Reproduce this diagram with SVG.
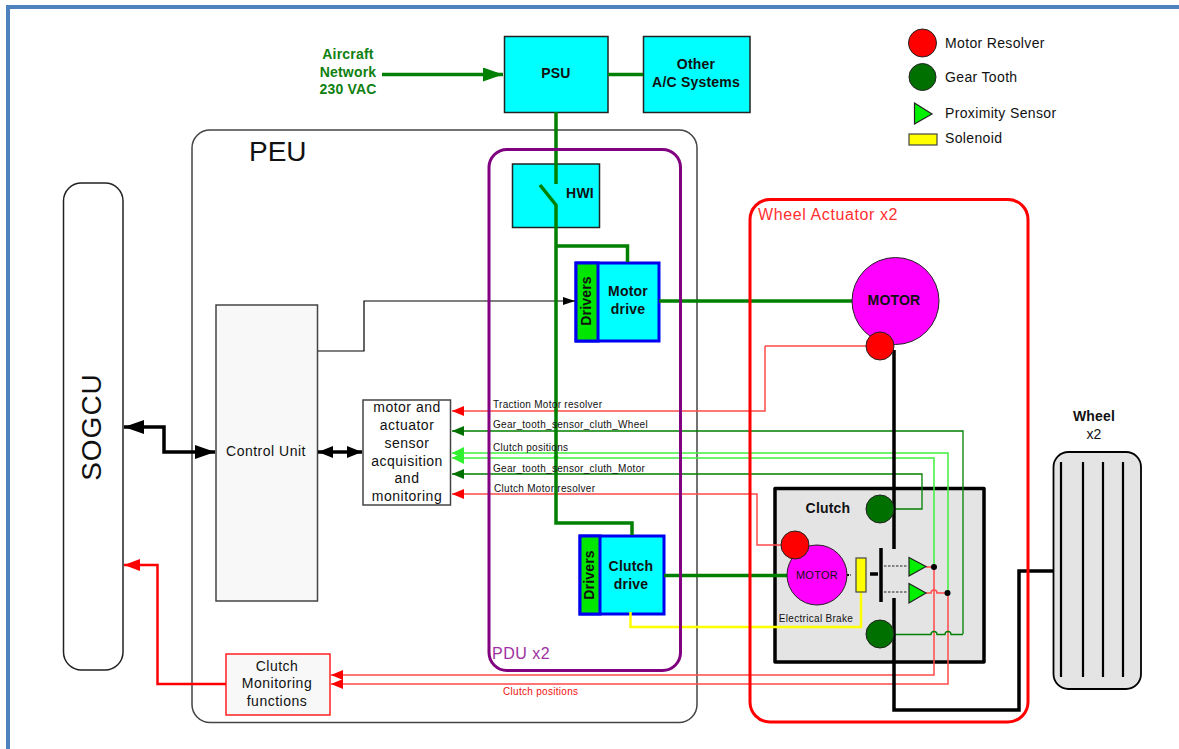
<svg xmlns="http://www.w3.org/2000/svg" width="1179" height="749" viewBox="0 0 1179 749">
<style>
text{font-family:"Liberation Sans",Arial,sans-serif;fill:#111}
.b{font-weight:bold;font-size:14px;text-anchor:middle;letter-spacing:.2px}
.r{font-size:14px;text-anchor:middle;letter-spacing:.5px}
.s{font-size:10px;letter-spacing:.3px}
.leg{font-size:14px;letter-spacing:.35px}
.cy{fill:#00ffff;stroke:#222;stroke-width:1.5}
.drv{fill:#00ffff;stroke:#0000f0;stroke-width:3}
.dg{fill:#00e600;stroke:#0000f0;stroke-width:3}
.rs{fill:#ff0000;stroke:#222;stroke-width:1}
.gt{fill:#007000;stroke:#222;stroke-width:1}
.px{fill:#00f000;stroke:#222;stroke-width:1.2}
.sol{fill:#ffff00;stroke:#444;stroke-width:1.2}
.mg{fill:#ff00ff;stroke:#222;stroke-width:1}
.grey{fill:#f8f8f8;stroke:#444;stroke-width:1.5}
.hp{fill:#fff;stroke:#444;stroke-width:1.5}
.gray2{fill:#e4e4e4;stroke:#000;stroke-width:3.5;stroke-linejoin:round}
#connectors path{fill:none}
.g3{stroke:#008000;stroke-width:3.5}
.k3{stroke:#000;stroke-width:3.5}
.gl{stroke:#008000;stroke-width:1.3}
.lg{stroke:#40f040;stroke-width:1.5}
.lr{stroke:#ff4a4a;stroke-width:1.5}
.yl{stroke:#ffff00;stroke-width:2.5}
</style>
<defs>
<marker id="mr" markerUnits="userSpaceOnUse" markerWidth="12" markerHeight="10" refX="12" refY="5" orient="auto"><path d="M12 5L0 0V10Z" fill="#ff0000"/></marker>
<marker id="mdg" markerUnits="userSpaceOnUse" markerWidth="12" markerHeight="10" refX="12" refY="5" orient="auto"><path d="M12 5L0 0V10Z" fill="#007000"/></marker>
<marker id="mlg" markerUnits="userSpaceOnUse" markerWidth="12" markerHeight="12" refX="12" refY="6" orient="auto"><path d="M12 6L0 0V12Z" fill="#30f030"/></marker>
<marker id="mk" markerUnits="userSpaceOnUse" markerWidth="20" markerHeight="14" refX="20" refY="7" orient="auto-start-reverse"><path d="M20 7L0 0V14Z" fill="#000"/></marker>
<marker id="mk2" markerUnits="userSpaceOnUse" markerWidth="15" markerHeight="12" refX="15" refY="6" orient="auto-start-reverse"><path d="M15 6L0 0V12Z" fill="#000"/></marker>
<marker id="mk3" markerUnits="userSpaceOnUse" markerWidth="12" markerHeight="8" refX="12" refY="4" orient="auto"><path d="M12 4L0 0V8Z" fill="#000"/></marker>
<marker id="mgr" markerUnits="userSpaceOnUse" markerWidth="20" markerHeight="14" refX="20" refY="7" orient="auto"><path d="M20 7L0 0V14Z" fill="#008000"/></marker>
<marker id="mrb" markerUnits="userSpaceOnUse" markerWidth="16" markerHeight="12" refX="16" refY="6" orient="auto"><path d="M16 6L0 0V12Z" fill="#ff0000"/></marker>
</defs>
<path d="M8 749V7H1179" fill="none" stroke="#4f81bd" stroke-width="4"/>

<g id="sogcu"><rect x="63.500" y="183" width="59.500" height="487" rx="18" fill="#fff" stroke="#222" stroke-width="1.500"/>
<text transform="translate(101 427) rotate(-90)" font-size="28" text-anchor="middle" letter-spacing="1">SOGCU</text></g>
<g id="peu"><rect x="192" y="130" width="505" height="592.500" rx="18" fill="#fff" stroke="#444" stroke-width="1.500"/>
<text x="249" y="161" font-size="28">PEU</text></g>
<g id="control-unit"><rect class="grey" x="216" y="305" width="101.500" height="296"/><text class="r" x="266" y="456">Control Unit</text></g>
<g id="acquisition"><rect class="hp" x="363" y="400" width="87.500" height="105"/>
<text class="r" x="407" y="412">motor and</text><text class="r" x="407" y="430">actuator</text><text class="r" x="407" y="448">sensor</text><text class="r" x="407" y="466">acquisition</text><text class="r" x="407" y="483">and</text><text class="r" x="407" y="501">monitoring</text></g>
<g id="clutch-monitoring"><rect x="226" y="654" width="104" height="61" fill="#f8f8f8" stroke="#ff2020" stroke-width="1.500"/>
<text class="r" x="277" y="671">Clutch</text><text class="r" x="277" y="688">Monitoring</text><text class="r" x="277" y="706">functions</text></g>
<g id="psu"><rect class="cy" x="504.500" y="36.500" width="103.500" height="76"/><text class="b" x="556" y="78">PSU</text></g>
<g id="other"><rect class="cy" x="643.500" y="36.500" width="106.500" height="76"/><text class="b" x="696" y="69">Other</text><text class="b" x="696" y="87">A/C Systems</text></g>
<g id="network"><text class="b" x="348" y="59" style="fill:#108010">Aircraft</text><text class="b" x="348" y="77" style="fill:#108010">Network</text><text class="b" x="348" y="94" style="fill:#108010">230 VAC</text></g>
<g id="hwi"><rect class="cy" x="512.500" y="164" width="87" height="63.500"/><text class="b" x="580" y="198">HWI</text></g>
<g id="motor-drive"><rect class="drv" x="576" y="263" width="83" height="78"/><rect class="dg" x="576" y="263" width="22" height="78"/>
<text class="b" transform="translate(591 301) rotate(-90)">Drivers</text><text class="b" x="628" y="296">Motor</text><text class="b" x="628" y="314">drive</text></g>
<g id="clutch-drive"><rect class="drv" x="580" y="536" width="84" height="78"/><rect class="dg" x="580" y="536" width="20" height="78"/>
<text class="b" transform="translate(594 575) rotate(-90)">Drivers</text><text class="b" x="631" y="571">Clutch</text><text class="b" x="631" y="589">drive</text></g>
<g id="clutch"><rect class="gray2" x="775" y="488.500" width="209" height="173.500"/><text class="b" x="828" y="513">Clutch</text>
<text x="816" y="622" font-size="10" text-anchor="middle" letter-spacing=".3">Electrical Brake</text></g>
<g id="wheel"><rect x="1053.500" y="452" width="87.500" height="237" rx="15" fill="#e4e4e4" stroke="#000" stroke-width="1.800"/>
<path d="M1061 462V677M1083 462V677M1103 462V677M1123 462V677" stroke="#000" stroke-width="2.200" fill="none"/>
<text class="b" x="1094" y="421">Wheel</text><text x="1094" y="439" font-size="14" text-anchor="middle">x2</text></g>

<g id="connectors">
<path class="lr" d="M765 346H880M765 346V411H557.500A1.500 1.500 0 0 0 554.500 411H452" marker-end="url(#mr)"/>
<path class="gl" d="M963 634V431H452" marker-end="url(#mdg)"/>
<path class="lg" d="M948 593V453H452" marker-end="url(#mlg)"/>
<path class="lg" d="M934 567V458H558A2 2 0 0 0 554 458H452" marker-end="url(#mlg)"/>
<path class="gl" d="M894 509H922V474H452" marker-end="url(#mdg)"/>
<path class="lr" d="M781 545H757V494H452" marker-end="url(#mr)"/>
<path class="lr" d="M926 567H934V675H331" marker-end="url(#mr)"/>
<path class="lr" d="M926 593H931A3 3 0 0 1 937 593H948V684H331" marker-end="url(#mr)"/>
<path class="gl" d="M894 634.500H931A3 3 0 0 1 937 634.500H945A3 3 0 0 1 951 634.500H963"/>
<path class="yl" d="M861 592V627H630.500V612"/>
<path d="M318 351H364V301H575" stroke="#000" stroke-width="1.200" marker-end="url(#mk3)"/>
<path class="g3" d="M382 74.500H503" marker-end="url(#mgr)"/>
<path class="g3" d="M608 74.500H643"/>
<path class="g3" d="M556 112V184M540 185L556 205V523H632V535M556 246H627.500V262"/>
<path class="g3" d="M659 301H852"/>
<path class="g3" d="M664 575.500H787"/>
<path class="k3" d="M894 350V549M894 598V710H1019V571H1054"/>
<path class="k3" d="M881 548V602"/>
<path class="k3" d="M870 574H878"/>
<path d="M847 575H851" stroke="#000" stroke-width="2" stroke-dasharray="2 1.500"/>
<path d="M884 566H908M884 592H908" stroke="#222" stroke-width="1.100" stroke-dasharray="2.500 1.500"/>
<path class="k3" d="M215 452H164V427H124" marker-end="url(#mk)" marker-start="url(#mk)"/>
<path class="k3" d="M318 452H362" marker-start="url(#mk2)" marker-end="url(#mk2)"/>
<path d="M226 684H157.500V565H124" stroke="#ff0000" stroke-width="2.500" marker-end="url(#mrb)"/>
<circle cx="934" cy="567" r="3" fill="#000"/><circle cx="947.500" cy="593" r="3" fill="#000"/>
</g>

<g id="pdu"><rect x="489" y="149.500" width="191.500" height="521" rx="18" fill="none" stroke="#800080" stroke-width="3"/><text x="492" y="659" font-size="16" style="fill:#a030a0" letter-spacing=".5">PDU x2</text></g>
<g id="wheel-actuator"><rect x="750" y="199.500" width="278" height="522.500" rx="20" fill="none" stroke="#ff0000" stroke-width="3"/><text x="758" y="220" font-size="16" style="fill:#ff3030" letter-spacing=".6">Wheel Actuator x2</text></g>
<g id="traction-motor"><circle class="mg" cx="895.500" cy="301" r="43.500"/><text class="b" x="894" y="305">MOTOR</text></g>
<g id="traction-resolver"><circle class="rs" cx="880" cy="346" r="14"/></g>
<g id="brake-motor"><circle class="mg" cx="817" cy="575" r="30"/><text x="817" y="579" font-size="11" text-anchor="middle" letter-spacing=".3">MOTOR</text></g>
<g id="clutch-resolver"><circle class="rs" cx="795" cy="545" r="14"/></g>
<g id="gear-top"><circle class="gt" cx="880" cy="509" r="14"/></g>
<g id="gear-bottom"><circle class="gt" cx="880" cy="634" r="14"/></g>
<g id="solenoid"><rect class="sol" x="856" y="558" width="10" height="34"/></g>
<g id="sensor-a"><path class="px" d="M909 557.500L926 566.500L909 576Z"/></g>
<g id="sensor-b"><path class="px" d="M909 583.500L926 593L909 603Z"/></g>

<g id="labels">
<text class="s" x="493" y="408">Traction Motor resolver</text>
<text class="s" x="493" y="428">Gear_tooth_sensor_cluth_Wheel</text>
<text class="s" x="493" y="451">Clutch positions</text>
<text class="s" x="493" y="472">Gear_tooth_sensor_cluth_Motor</text>
<text class="s" x="494" y="492">Clutch Motor resolver</text>
<text class="s" x="503" y="695" style="fill:#f01010">Clutch positions</text>
</g>
<g id="legend">
<circle class="rs" cx="922.500" cy="43" r="14"/><text class="leg" x="945" y="48">Motor Resolver</text>
<circle class="gt" cx="922.500" cy="77" r="13.500"/><text class="leg" x="945" y="82">Gear Tooth</text>
<path class="px" d="M914.500 103L932 114L914.500 124Z"/><text class="leg" x="945" y="118">Proximity Sensor</text>
<rect class="sol" x="909" y="134" width="28" height="11"/><text class="leg" x="945" y="143">Solenoid</text>
</g>
</svg>
